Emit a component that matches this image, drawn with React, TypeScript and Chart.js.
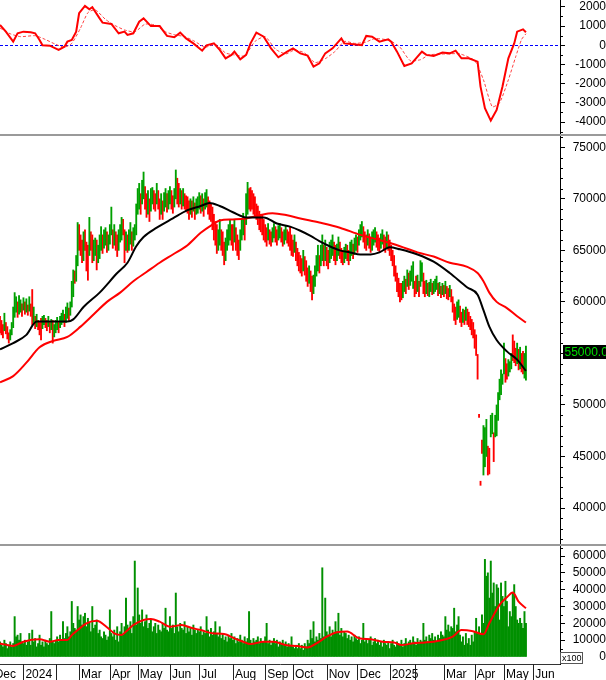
import React, { useEffect, useRef } from 'react';
import { Chart, registerables } from 'chart.js';

Chart.register(...registerables);

const FONT = '"Liberation Sans", Arial, sans-serif';

// ---- x axis (trading-day index) ----
const X_MIN = 0;
const X_MAX = 382.25;
const monthTickIdx = [-5, 16, 38, 54, 75, 94, 116, 136, 159, 181, 200, 223, 244, 266, 283, 303, 324, 344, 364];
const monthTickLabels = ['Dec', '2024', '', 'Mar', 'Apr', 'May', 'Jun', 'Jul', 'Aug', 'Sep', 'Oct', 'Nov', 'Dec', '2025', '', 'Mar', 'Apr', 'May', 'Jun'];

// ---- daily candles (thousands) ----
const priceLow = [
  57.0, 56.8, 56.5, 57.2, 56.9, 56.4, 56.0, 56.3, 56.8, 57.5,
  58.5, 59.0, 58.5, 58.8, 59.0, 58.6, 59.2, 58.8, 59.0, 58.7,
  59.1, 58.6, 57.8, 58.0, 57.4, 57.6, 57.3, 56.8, 56.3, 57.4,
  57.8, 57.5, 57.2, 57.6, 57.0, 57.3, 56.0, 56.6, 57.0, 57.3,
  57.0, 57.5, 57.8, 58.0, 57.6, 58.0, 58.4, 58.2, 58.7, 59.5,
  60.5, 61.8, 62.0, 63.5, 65.0, 64.5, 63.8, 64.0, 65.0, 63.0,
  62.1, 64.5, 65.0, 63.8, 64.0, 64.5, 63.1, 63.8, 64.2, 65.0,
  64.7, 65.2, 65.5, 64.8, 65.0, 65.6, 66.5, 65.2, 65.5, 65.0,
  64.4, 65.0, 65.8, 66.0, 66.5, 63.8, 65.0, 64.8, 65.0, 65.6,
  65.0, 65.4, 66.0, 66.5, 68.5, 69.0, 68.5, 69.5, 70.0, 69.0,
  68.2, 68.5, 67.8, 68.8, 69.5, 69.0, 68.8, 69.5, 69.0, 68.0,
  68.5, 68.0, 68.8, 69.2, 68.7, 69.0, 69.5, 69.0, 68.6, 69.2,
  70.0, 69.5, 69.2, 69.5, 69.0, 69.3, 69.0, 68.8, 68.6, 68.0,
  68.5, 68.2, 68.8, 68.0, 68.5, 68.6, 69.0, 68.6, 68.8, 68.3,
  69.0, 69.2, 68.5, 68.0, 67.8, 67.0, 66.0, 65.5, 64.7, 65.0,
  65.5, 65.0, 64.5, 63.6, 64.0, 65.0, 65.5, 66.0, 65.5, 65.0,
  65.8, 65.0, 64.5, 64.1, 65.0, 66.0, 66.5, 66.0, 67.5, 68.5,
  69.0, 68.8, 69.0, 68.5, 68.2, 68.0, 67.5, 67.0, 66.8, 66.5,
  66.0, 65.8, 65.4, 66.0, 65.6, 65.4, 65.8, 66.2, 65.8, 65.5,
  66.0, 66.2, 65.8, 65.4, 65.6, 66.0, 65.7, 65.4, 65.0, 64.5,
  64.4, 64.8, 64.0, 63.5, 63.0, 62.8, 62.5, 63.0, 62.6, 62.0,
  61.5, 61.8, 61.0, 60.2, 60.8, 61.5, 62.5, 63.0, 62.8, 63.5,
  64.0, 63.5, 64.0, 63.5, 63.2, 63.8, 64.2, 64.5, 64.0, 63.6,
  64.0, 64.5, 64.2, 63.8, 63.6, 63.8, 64.2, 64.0, 63.6, 64.0,
  64.5, 64.2, 64.6, 65.0, 64.8, 65.5, 66.0, 66.3, 65.8, 65.2,
  65.0, 65.5, 65.2, 64.8, 65.0, 65.5, 65.8, 65.3, 65.0, 64.8,
  65.2, 65.6, 65.0, 64.8, 65.3, 65.0, 64.5, 64.0, 63.5, 62.5,
  62.0, 61.0, 60.5, 60.0, 60.2, 60.4, 61.0, 60.8, 61.5, 61.2,
  61.6, 62.0, 61.3, 60.5, 60.8, 61.0, 60.5, 61.5, 62.0, 60.8,
  60.5, 60.8, 60.6, 60.5, 61.0, 60.7, 60.8, 61.0, 61.2, 60.6,
  60.8, 60.4, 60.7, 60.5, 60.8, 60.3, 60.2, 60.5, 60.0, 59.0,
  58.2, 57.8, 58.3, 58.5, 58.0, 57.6, 58.0, 57.8, 58.2, 57.8,
  57.6, 57.3, 56.8, 56.5, 55.5, 54.8, 52.5, 48.8, 42.2, 45.3,
  43.2, 44.0, 45.0, 43.2, 43.3, 46.9, 47.2, 44.5, 46.9, 47.0,
  48.5, 50.5, 51.0, 52.0, 53.0, 52.2, 52.5, 52.8, 53.2, 53.5,
  54.3, 54.1, 53.8, 54.0, 53.4, 53.5, 53.2, 53.0, 52.6, 52.4,
];
const priceHigh = [
  58.6, 58.2, 57.8, 58.9, 58.0, 57.6, 57.0, 57.3, 58.0, 59.5,
  60.9, 60.5, 60.0, 60.6, 60.2, 59.8, 60.4, 60.0, 60.3, 59.7,
  60.5, 59.8, 61.2, 59.5, 58.6, 58.8, 58.2, 58.0, 58.4, 58.6,
  58.7, 58.4, 58.2, 58.6, 58.0, 58.3, 58.2, 57.8, 58.2, 58.5,
  58.0, 58.6, 58.9, 59.2, 58.8, 59.5, 59.9, 59.4, 60.0, 62.0,
  63.1, 63.0, 64.5, 67.7, 67.5, 66.5, 66.0, 66.8, 67.0, 65.8,
  65.5, 68.2, 66.8, 66.5, 66.0, 66.2, 66.0, 65.5, 66.5, 67.3,
  66.5, 67.0, 67.2, 66.8, 66.5, 67.5, 69.2, 67.0, 67.5, 66.8,
  66.5, 67.0, 67.5, 68.2, 68.0, 67.0, 66.8, 66.5, 67.0, 67.7,
  66.8, 67.2, 67.5, 69.5, 71.0, 71.5, 70.5, 71.8, 72.6, 71.2,
  70.5, 70.8, 70.0, 71.0, 71.1, 70.8, 70.5, 71.5, 70.8, 70.0,
  70.5, 69.8, 70.6, 71.0, 70.5, 70.8, 71.2, 70.8, 70.3, 71.0,
  72.8, 72.0, 71.5, 71.0, 70.8, 71.0, 70.5, 70.3, 70.2, 69.8,
  70.0, 69.8, 70.2, 69.6, 70.0, 70.2, 70.6, 70.3, 70.5, 70.0,
  70.6, 70.9, 70.2, 69.8, 69.5, 69.2, 68.5, 67.8, 67.5, 67.0,
  68.0, 67.0, 66.8, 65.8, 66.2, 67.0, 67.5, 68.0, 67.5, 67.5,
  68.0, 67.2, 66.5, 66.0, 67.0, 68.0, 68.6, 68.2, 70.5, 71.6,
  71.0, 71.1, 70.8, 70.5, 70.2, 69.5, 69.3, 68.8, 68.5, 68.5,
  68.0, 67.5, 67.2, 67.6, 67.0, 66.8, 67.2, 67.6, 67.3, 67.0,
  67.4, 67.6, 67.2, 66.8, 67.0, 67.4, 67.0, 66.8, 67.3, 66.5,
  66.0, 66.5, 65.8, 65.2, 64.8, 64.5, 64.2, 65.0, 64.4, 64.0,
  63.3, 63.5, 63.0, 62.5, 62.6, 63.5, 64.5, 65.5, 64.5, 65.5,
  66.5, 65.5, 66.0, 65.3, 65.0, 65.8, 66.0, 66.5, 65.8, 65.5,
  65.6, 66.3, 65.8, 65.2, 65.0, 65.3, 65.6, 65.5, 65.0, 65.8,
  66.0, 65.6, 66.2, 66.5, 66.3, 67.0, 67.5, 67.8, 67.3, 66.8,
  66.5, 67.0, 66.6, 66.3, 66.8, 67.0, 67.2, 66.8, 66.5, 66.2,
  66.6, 67.0, 66.5, 66.3, 66.8, 66.5, 66.0, 65.5, 65.0, 64.5,
  63.5, 62.8, 62.3, 61.8, 61.8, 62.0, 62.5, 62.2, 63.1, 62.8,
  63.0, 63.5, 63.9, 62.0, 62.5, 62.6, 62.0, 64.0, 63.8, 62.8,
  62.0, 62.1, 61.8, 61.9, 62.2, 61.8, 62.0, 62.2, 62.5, 61.8,
  61.9, 61.5, 61.8, 61.6, 62.0, 61.5, 61.3, 61.6, 61.2, 60.5,
  59.8, 59.5, 60.0, 60.2, 59.6, 59.0, 59.3, 59.2, 59.5, 59.3,
  59.0, 58.6, 58.3, 58.0, 57.3, 56.8, 54.9, 49.1, 42.6, 46.6,
  48.0, 47.8, 48.6, 46.0, 45.8, 49.0, 49.2, 47.3, 49.0, 50.0,
  51.2, 52.5, 53.4, 53.0, 56.0, 54.5, 54.0, 54.4, 54.2, 55.0,
  56.8, 56.2, 55.5, 56.0, 55.4, 55.6, 55.0, 55.2, 55.0, 55.7,
];
const candleDir = [
  'ddduddduuu', 'uuduududud', 'uddududddu', 'uddududuuu', 'duuuduuduu',
  'uduudddudd', 'dudduuduuu', 'duuduuudud', 'duuudduduu', 'duuuuuduud',
  'duduuddudd', 'uduuduuddu', 'uddududddd', 'ududuuudud', 'uudddddddu',
  'uddduuuudd', 'uddduuuduu', 'dddddddddd', 'dddudduudd', 'uudduudddd',
  'dudddddudd', 'dudduuuudu', 'ududduuudd', 'uuddduuddu', 'uduuduuudd',
  'dudduuuddd', 'uudduddddd', 'ddddduudud', 'uuudduduud', 'duduuduuud',
  'udududdudd', 'dduuddudud', 'dddddddddd', 'uuudduuduu', 'uuuuudduuu',
  'dddududduu',
].join('');
const lastClose = 55000;

// ---- moving averages of price (thousands), read at sampled days ----
const maShortIdx = [0, 9, 18, 25, 34, 46, 50, 57, 68, 80, 87, 93, 98, 107, 118, 128, 137, 143, 150, 159, 168, 180, 189, 198, 205, 212, 218, 225, 232, 239, 246, 253, 259, 266, 273, 285, 296, 307, 319, 326, 330, 334, 339, 346, 353, 359];
const maShortVal = [55.4, 56.0, 56.8, 58.1, 58.1, 58.1, 58.3, 59.5, 60.9, 62.8, 63.8, 65.4, 66.3, 67.2, 68.1, 68.9, 69.3, 69.6, 69.3, 68.7, 68.2, 68.2, 67.6, 67.3, 66.9, 66.4, 65.9, 65.4, 65.0, 64.8, 64.6, 64.6, 64.8, 65.3, 65.1, 64.6, 63.9, 62.8, 61.4, 60.7, 59.2, 57.6, 56.3, 55.2, 54.4, 53.3];
const maLongIdx = [0, 9, 18, 27, 36, 46, 55, 64, 73, 82, 91, 100, 109, 118, 128, 137, 145, 150, 159, 168, 177, 186, 196, 205, 218, 232, 246, 259, 273, 285, 296, 307, 319, 326, 330, 334, 339, 346, 353, 359];
const maLongVal = [52.2, 52.8, 54.1, 55.6, 56.2, 56.6, 57.6, 58.8, 60.0, 60.9, 62.0, 62.9, 63.8, 64.6, 65.5, 66.7, 67.5, 67.9, 68.0, 68.1, 68.4, 68.6, 68.4, 68.1, 67.7, 67.2, 66.5, 66.0, 65.4, 64.8, 64.4, 63.8, 63.4, 62.8, 62.0, 60.9, 60.0, 59.4, 58.6, 58.0];

// ---- oscillator ----
const oscMainIdx = [0, 4, 9, 12, 16, 21, 24, 27, 29, 34, 40, 44, 46, 49, 52, 54, 58, 61, 63, 68, 70, 76, 81, 85, 87, 91, 95, 98, 103, 109, 114, 119, 123, 127, 132, 138, 141, 146, 150, 154, 158, 160, 164, 168, 171, 175, 180, 185, 190, 196, 200, 205, 210, 214, 218, 222, 227, 233, 235, 241, 247, 250, 254, 259, 265, 267, 271, 276, 281, 285, 288, 291, 296, 302, 307, 311, 315, 320, 326, 328, 331, 335, 339, 343, 347, 351, 353, 357, 359];
const oscMainVal = [1060, 710, 190, 625, 710, 680, 625, 280, 0, -20, -240, -70, 190, 280, 710, 1670, 2050, 1875, 1980, 1400, 1180, 1110, 625, 710, 540, 625, 1230, 1400, 1000, 1000, 490, 420, 660, 360, 100, -280, 0, 100, -240, -680, -500, -330, -730, -500, 100, 660, 450, -160, -625, -330, -160, -420, -540, -1110, -940, -420, -160, 360, 100, 50, 0, 490, 450, 190, 310, 190, -330, -1080, -940, -590, -330, -500, -560, -380, -420, -280, -680, -680, -850, -2150, -3280, -3920, -3370, -2150, -680, 100, 710, 830, 680];
const oscSignalIdx = [0, 7, 14, 24, 31, 38, 44, 49, 55, 60, 65, 72, 78, 85, 92, 99, 106, 113, 119, 126, 133, 140, 147, 154, 160, 167, 174, 181, 188, 195, 201, 208, 215, 222, 229, 235, 242, 249, 256, 266, 273, 280, 287, 293, 304, 314, 324, 330, 336, 341, 347, 352, 356, 359];
const oscSignalVal = [900, 600, 450, 500, 300, 50, -100, 100, 900, 1700, 1850, 1350, 1050, 800, 700, 1100, 1050, 700, 550, 450, 200, -100, 50, -400, -500, -550, 200, 450, -200, -450, -250, -400, -900, -700, -300, 200, 100, 150, 350, 250, -100, -800, -750, -500, -450, -450, -800, -1800, -3200, -3000, -1800, -600, 300, 600];

// ---- volume (thousands of axis units, axis is x100) ----
const volumeK = [
  9, 7, 6, 10, 8, 5, 7, 9, 6, 8,
  24, 12, 13, 10, 14, 9, 8, 10, 7, 9,
  14, 7, 16, 9, 11, 6, 8, 13, 7, 9,
  6, 10, 8, 7, 11, 27, 9, 8, 10, 12,
  9, 13, 10, 21, 11, 14, 18, 12, 15, 33,
  20, 17, 16, 30, 22, 25, 19, 24, 26, 18,
  23, 20, 15, 30, 17, 19, 22, 14, 16, 12,
  11, 15, 13, 10, 12, 28, 14, 12, 16, 10,
  18, 9, 15, 20, 13, 18, 35, 19, 16, 21,
  14, 24, 57, 19, 41, 25, 20, 28, 18, 21,
  25, 17, 20, 22, 15, 18, 20, 14, 19, 16,
  15, 20, 17, 29, 16, 15, 24, 17, 19, 14,
  38, 18, 15, 20, 17, 16, 21, 14, 18, 15,
  17, 13, 19, 16, 14, 16, 15, 18, 13, 15,
  14, 24, 16, 12, 17, 13, 15, 21, 14, 12,
  18, 11, 14, 10, 12, 9, 13, 11, 14, 10,
  12, 8, 11, 9, 13, 10, 8, 12, 9, 11,
  27, 10, 8, 11, 9, 10, 12, 8, 11, 9,
  9, 12, 20, 8, 10, 7, 9, 11, 8, 10,
  6, 9, 8, 10, 7, 9, 6, 8, 7, 12,
  6, 5, 7, 5, 8, 5, 7, 4, 8, 6,
  10, 8, 16, 11, 21, 9, 12, 10, 14, 11,
  53, 12, 35, 15, 13, 18, 12, 16, 14, 21,
  15, 26, 13, 17, 12, 15, 14, 11, 13, 10,
  12, 9, 13, 11, 10, 12, 8, 10, 20, 9,
  11, 8, 10, 12, 7, 9, 11, 8, 10, 7,
  9, 6, 10, 8, 7, 9, 5, 8, 10, 7,
  6, 9, 8, 7, 10, 6, 8, 11, 7, 9,
  10, 8, 12, 9, 7, 11, 8, 10, 9, 20,
  10, 12, 9, 13, 11, 14, 10, 12, 9, 13,
  11, 15, 13, 12, 24, 16, 19, 15, 18, 17,
  29, 15, 19, 24, 13, 9, 12, 7, 14, 8,
  11, 7, 13, 9, 15, 23, 14, 18, 14, 25,
  20, 58, 48, 50, 35, 57, 38, 44, 30, 43,
  41, 22, 44, 36, 30, 45, 33, 18, 27, 24,
  38, 43, 30, 22, 20, 23, 20, 17, 27, 20,
];
const volMaIdx = [0, 9, 16, 27, 34, 40, 46, 49, 53, 59, 66, 73, 78, 83, 86, 91, 98, 103, 109, 116, 124, 131, 137, 145, 153, 160, 166, 171, 180, 187, 195, 203, 210, 216, 223, 230, 237, 245, 253, 261, 269, 274, 282, 290, 296, 304, 309, 315, 322, 330, 334, 341, 346, 350, 354, 359];
const volMaVal = [8.1, 6.6, 9.1, 10.5, 9.1, 10.1, 10.1, 13.0, 16.0, 20.0, 21.5, 17.7, 14.1, 13.1, 15.1, 19.0, 22.0, 22.6, 21.0, 18.0, 19.0, 17.2, 16.0, 14.1, 13.7, 11.1, 9.1, 7.7, 9.1, 9.1, 7.1, 6.5, 5.7, 8.1, 12.1, 14.7, 15.1, 11.1, 10.5, 9.1, 8.6, 7.1, 8.1, 8.6, 9.1, 10.5, 12.1, 16.0, 15.5, 13.5, 20.0, 31.0, 35.5, 38.3, 32.9, 29.0];

// ---- axis ticks ----
const oscTicks = [-4000, -3000, -2000, -1000, 0, 1000, 2000];
const priceTicks = [40000, 45000, 50000, 55000, 60000, 65000, 70000, 75000];
const volTicks = [0, 10000, 20000, 30000, 40000, 50000, 60000];

const pts = (idx: number[], val: number[], k = 1) => idx.map((x, i) => ({ x, y: val[i] * k }));

function rightAxis(min: number, max: number, majors: number[], pad: number) {
  return {
    type: 'linear',
    position: 'right',
    min,
    max,
    afterBuildTicks: (s: any) => {
      s.ticks = majors.map((v) => ({ value: v }));
    },
    afterFit: (s: any) => {
      s.width = 46;
      s.paddingTop = 0;
      s.paddingBottom = 0;
    },
    border: { display: true, color: '#000', width: 1 },
    grid: { display: true, drawOnChartArea: false, drawTicks: true, tickLength: 5, color: '#000', tickColor: '#000' },
    ticks: {
      padding: pad,
      crossAlign: 'far',
      color: '#000',
      font: { family: FONT, size: 12 },
      callback: (v: any) => String(v),
    },
  };
}

const hiddenX = { type: 'linear', min: X_MIN, max: X_MAX, display: false, offset: false };

function minorTicks(step: number, major: number) {
  return {
    id: 'minorTicks',
    afterDraw(chart: any) {
      const s = chart.scales.y;
      const ctx = chart.ctx;
      ctx.save();
      ctx.strokeStyle = '#000';
      ctx.lineWidth = 1;
      ctx.beginPath();
      for (let v = Math.ceil(s.min / step) * step; v <= s.max; v += step) {
        if (Math.abs(v % major) < 1e-6) continue;
        const y = Math.round(s.getPixelForValue(v)) + 0.5;
        ctx.moveTo(s.left, y);
        ctx.lineTo(s.left + 3, y);
      }
      ctx.stroke();
      ctx.restore();
    },
  };
}

const zeroLine = {
  id: 'zeroLine',
  beforeDatasetsDraw(chart: any) {
    const s = chart.scales.y;
    const { left, right } = chart.chartArea;
    const ctx = chart.ctx;
    const y = Math.round(s.getPixelForValue(0)) + 0.5;
    ctx.save();
    ctx.strokeStyle = '#0000ff';
    ctx.lineWidth = 1;
    ctx.setLineDash([3, 2]);
    ctx.beginPath();
    ctx.moveTo(left, y);
    ctx.lineTo(right, y);
    ctx.stroke();
    ctx.restore();
  },
};

const lastPriceBox = {
  id: 'lastPriceBox',
  afterDraw(chart: any) {
    const s = chart.scales.y;
    const ctx = chart.ctx;
    const y = Math.round(s.getPixelForValue(lastClose)) - 1;
    ctx.save();
    ctx.fillStyle = '#000';
    ctx.fillRect(s.left + 3, y - 7, 46, 14);
    ctx.fillStyle = '#00dd00';
    ctx.font = '12px ' + FONT;
    ctx.textBaseline = 'middle';
    ctx.textAlign = 'left';
    ctx.fillText(lastClose.toFixed(2), s.left + 4.5, y + 0.5);
    ctx.restore();
  },
};

const x100Box = {
  id: 'x100Box',
  afterDraw(chart: any) {
    const s = chart.scales.y;
    const b = chart.chartArea.bottom;
    const ctx = chart.ctx;
    ctx.save();
    ctx.fillStyle = '#fff';
    ctx.fillRect(s.left, b - 12, 23, 12);
    ctx.strokeStyle = '#555';
    ctx.lineWidth = 1;
    ctx.strokeRect(s.left + 0.5, b - 11.5, 22, 11);
    ctx.fillStyle = '#000';
    ctx.font = '9px ' + FONT;
    ctx.textBaseline = 'middle';
    ctx.textAlign = 'left';
    ctx.fillText('x100', s.left + 2, b - 5.5);
    ctx.restore();
  },
};

const monthSeparators = {
  id: 'monthSeparators',
  afterDraw(chart: any) {
    const s = chart.scales.x;
    const ctx = chart.ctx;
    const right = chart.chartArea.right;
    ctx.save();
    ctx.strokeStyle = '#222';
    ctx.lineWidth = 1;
    ctx.beginPath();
    monthTickIdx.forEach((v) => {
      const x = Math.round(s.getPixelForValue(v)) + 0.5;
      if (x < 0 || x > right) return;
      ctx.moveTo(x, s.top);
      ctx.lineTo(x, s.bottom);
    });
    ctx.stroke();
    ctx.restore();
  },
};

const baseOptions = {
  animation: false,
  responsive: false,
  events: [],
  layout: { padding: 0 },
  plugins: { legend: { display: false }, tooltip: { enabled: false } },
};

function buildOsc() {
  return {
    type: 'line',
    data: {
      datasets: [
        { data: pts(oscMainIdx, oscMainVal), borderColor: '#ff0000', borderWidth: 2, pointRadius: 0, tension: 0, order: 0 },
        { data: pts(oscSignalIdx, oscSignalVal), borderColor: '#ff4040', borderWidth: 1, borderDash: [3, 2], pointRadius: 0, tension: 0.2, order: 1 },
      ],
    },
    options: {
      ...baseOptions,
      scales: {
        x: hiddenX,
        y: rightAxis(-4620, 2359, oscTicks, 8.3),
      },
    },
    plugins: [minorTicks(500, 1000), zeroLine],
  };
}

function buildPrice() {
  const up: any[] = [];
  const down: any[] = [];
  priceHigh.forEach((h, i) => {
    const p = { x: i, y: [priceLow[i] * 1000, h * 1000] };
    (candleDir[i] === 'u' ? up : down).push(p);
  });
  return {
    type: 'bar',
    data: {
      datasets: [
        { type: 'line', data: pts(maShortIdx, maShortVal, 1000), borderColor: '#000', borderWidth: 2, pointRadius: 0, cubicInterpolationMode: 'monotone', order: 0 },
        { type: 'line', data: pts(maLongIdx, maLongVal, 1000), borderColor: '#ff0000', borderWidth: 2, pointRadius: 0, cubicInterpolationMode: 'monotone', order: 1 },
        { type: 'bar', data: up, backgroundColor: '#00a000', barThickness: 1.2, grouped: false, order: 2 },
        { type: 'bar', data: down, backgroundColor: '#ff0000', barThickness: 1.2, grouped: false, order: 3 },
      ],
    },
    options: {
      ...baseOptions,
      scales: {
        x: hiddenX,
        y: rightAxis(36507, 76096, priceTicks, 5.6),
      },
    },
    plugins: [minorTicks(1000, 5000), lastPriceBox],
  };
}

function buildVolume() {
  return {
    type: 'bar',
    data: {
      datasets: [
        { type: 'line', data: pts(volMaIdx, volMaVal, 1000), borderColor: '#ff0000', borderWidth: 2, pointRadius: 0, cubicInterpolationMode: 'monotone', order: 0 },
        { type: 'bar', data: volumeK.map((v, i) => ({ x: i, y: v * 1000 })), backgroundColor: '#009000', barThickness: 1.3, grouped: false, order: 1 },
      ],
    },
    options: {
      ...baseOptions,
      scales: {
        x: {
          type: 'linear',
          position: 'bottom',
          min: X_MIN,
          max: X_MAX,
          offset: false,
          afterBuildTicks: (s: any) => {
            s.ticks = monthTickIdx.map((v) => ({ value: v }));
          },
          afterFit: (s: any) => {
            s.height = 16;
            s.paddingLeft = 0;
            s.paddingRight = 0;
          },
          border: { display: true, color: '#333', width: 1 },
          grid: { display: false, drawOnChartArea: false, drawTicks: false },
          ticks: {
            autoSkip: false,
            maxRotation: 0,
            minRotation: 0,
            align: 'start',
            labelOffset: 2,
            padding: 3,
            color: '#000',
            font: { family: FONT, size: 12 },
            callback: (_v: any, i: number) => monthTickLabels[i],
          },
        },
        y: rightAxis(-4158, 65941, volTicks, 5.6),
      },
    },
    plugins: [minorTicks(5000, 10000), x100Box, monthSeparators],
  };
}

function ChartCanvas({ top, height, build }: { top: number; height: number; build: () => any }) {
  const ref = useRef<HTMLCanvasElement>(null);
  useEffect(() => {
    const chart = new Chart(ref.current as HTMLCanvasElement, build());
    return () => chart.destroy();
  }, []);
  return (
    <canvas
      ref={ref}
      width={606}
      height={height}
      style={{ position: 'absolute', left: 0, top, width: 606, height, display: 'block' }}
    />
  );
}

export default function App() {
  return (
    <div style={{ position: 'absolute', left: 0, top: 0, width: 606, height: 680, background: '#fff', overflow: 'hidden' }}>
      <ChartCanvas top={0} height={134} build={buildOsc} />
      <div style={{ position: 'absolute', left: 0, top: 134, width: 606, height: 2, background: '#9a9a9a' }} />
      <ChartCanvas top={136} height={408} build={buildPrice} />
      <div style={{ position: 'absolute', left: 0, top: 544, width: 606, height: 2, background: '#9a9a9a' }} />
      <ChartCanvas top={546} height={134} build={buildVolume} />
    </div>
  );
}
